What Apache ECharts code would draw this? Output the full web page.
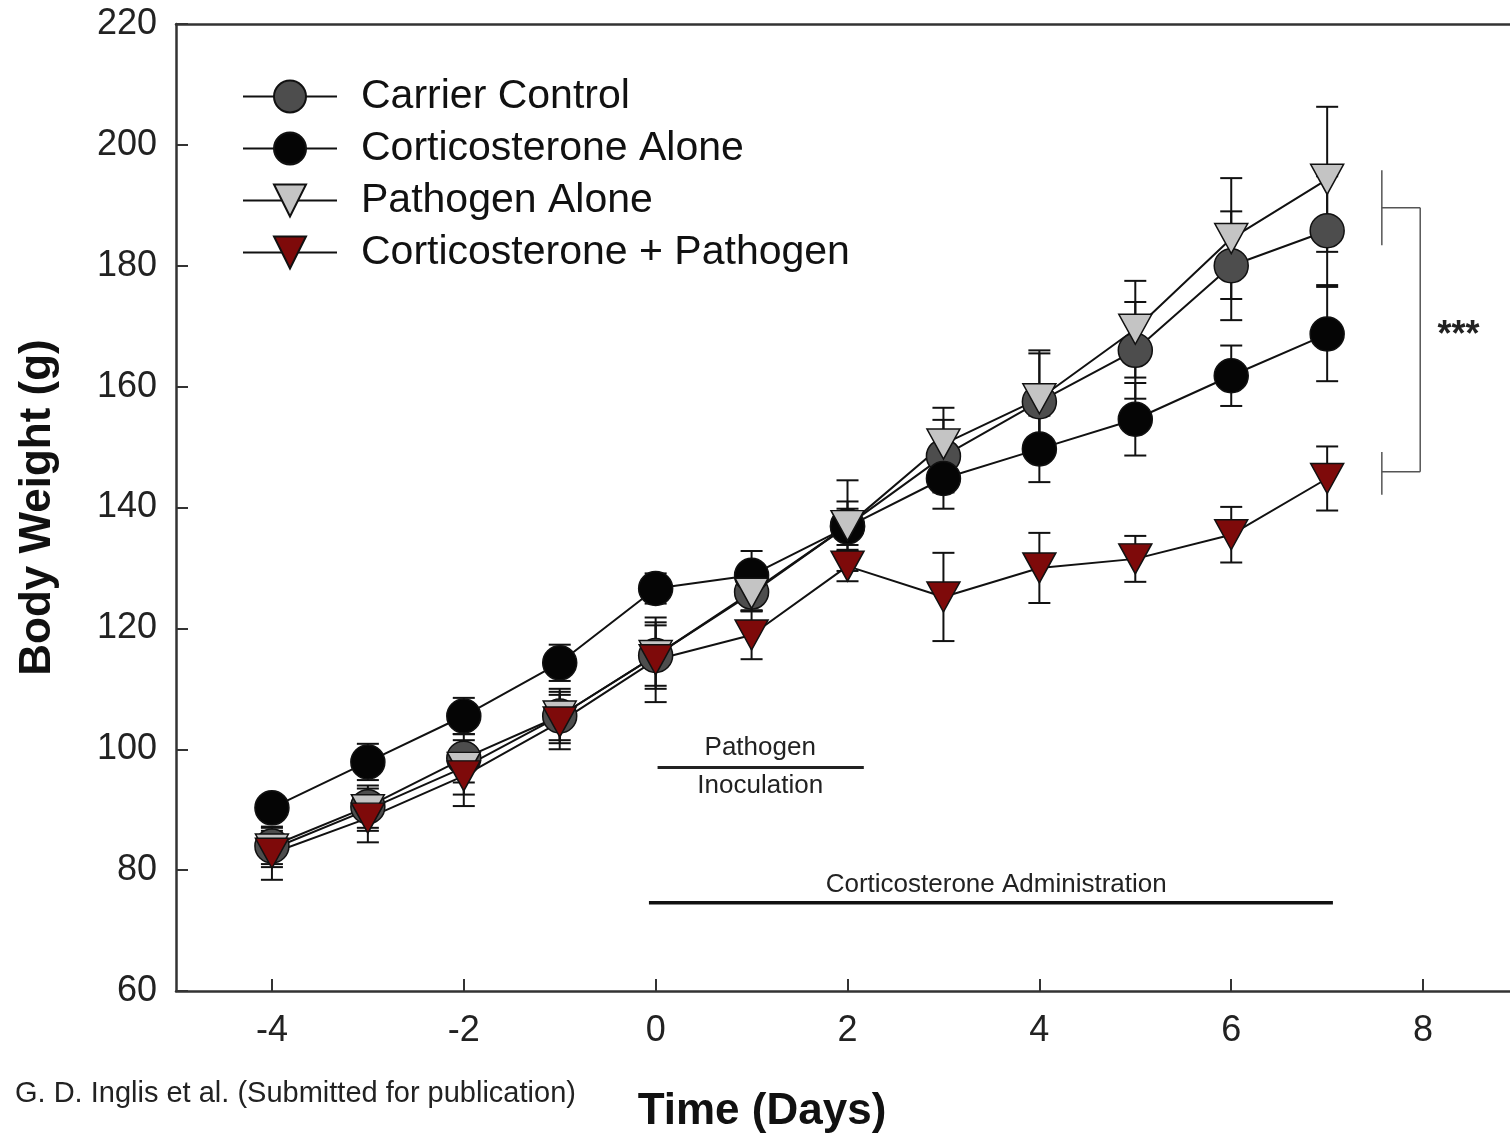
<!DOCTYPE html>
<html>
<head>
<meta charset="utf-8">
<title>Body Weight</title>
<script src="https://cdn.jsdelivr.net/npm/echarts@6/dist/echarts.min.js"></script>
<style>
    html, body {
        margin: 0;
        padding: 0;
        background: #fff;
    }
    #main {
        width: 1510px;
        height: 1135px;
    }
</style>
</head>
<body>
<div id="main"></div>
<script>
const days = [-4, -3, -2, -1, 0, 1, 2, 3, 4, 5, 6, 7]
const xTicks = [-4, -2, 0, 2, 4, 6, 8]

const carrierControl = [84, 90.5, 98.5, 105.5, 115.5, 126, 137, 148.5, 157.5, 166, 180, 185.8]
const carrierControlErr = [3, 3.5, 4, 4, 5, 3, 7.5, 6, 8, 8, 9, 9]
const corticosteroneAlone = [90.3, 97.9, 105.5, 114.3, 126.6, 128.8, 136.8, 144.8, 149.7, 154.6, 161.8, 168.7]
const corticosteroneAloneErr = [2, 3, 3, 3, 2.5, 4, 3, 5, 5.5, 6, 5, 7.8]
const pathogenAlone = [83.5, 90, 97, 105.5, 115.5, 125.8, 137, 150.5, 158, 169.5, 184.5, 194.3]
const pathogenAloneErr = [3, 3.5, 4.5, 4.5, 5.5, 3, 4, 6, 8, 8, 10, 12]
const corticoPathogen = [82.8, 88.6, 95.6, 104.5, 114.8, 118.9, 130.3, 125.2, 130, 131.5, 135.5, 144.8]
const corticoPathogenErr = [4.4, 4, 5, 4.5, 7, 4, 2.5, 7.3, 5.8, 3.8, 4.6, 5.3]

const FONT = 'Liberation Sans, Arial, Helvetica, sans-serif'

const chart = echarts.init(document.getElementById('main'))

function points(vals) {
    return days.map((d, i) => [d, vals[i]])
}

function errRows(vals, errs) {
    return days.map((d, i) => [d, vals[i] - errs[i], vals[i] + errs[i]])
}

// vertical error bar with caps, drawn through the axes
function errorSeries(vals, errs) {
    return {
        type: 'custom',
        z: 1,
        silent: true,
        data: errRows(vals, errs),
        renderItem: function (params, api) {
            const lo = api.coord([api.value(0), api.value(1)])
            const hi = api.coord([api.value(0), api.value(2)])
            const w = 11
            const style = { stroke: '#111', lineWidth: 2 }
            return {
                type: 'group',
                children: [
                    { type: 'line', shape: { x1: lo[0], y1: lo[1], x2: hi[0], y2: hi[1] }, style: style },
                    { type: 'line', shape: { x1: lo[0] - w, y1: lo[1], x2: lo[0] + w, y2: lo[1] }, style: style },
                    { type: 'line', shape: { x1: hi[0] - w, y1: hi[1], x2: hi[0] + w, y2: hi[1] }, style: style }
                ]
            }
        }
    }
}

function lineSeries(name, vals, symbol, color, size, rotate) {
    return {
        name: name,
        type: 'line',
        z: 3,
        data: points(vals),
        symbol: symbol,
        symbolSize: size,
        symbolRotate: rotate,
        showAllSymbol: true,
        lineStyle: { color: '#111', width: 2 },
        itemStyle: { color: color, borderColor: '#111', borderWidth: 1.5 },
        emphasis: { disabled: true }
    }
}

const option = {
    animation: false,
    backgroundColor: '#fff',
    grid: {
        left: 176,
        top: 24,
        right: 0,
        bottom: 144
    },
    legend: {
        orient: 'vertical',
        left: 242,
        top: 76,
        padding: 0,
        itemWidth: 94,
        itemHeight: 40,
        itemGap: 11,
        textStyle: {
            fontFamily: FONT,
            fontSize: 41,
            color: '#111',
            padding: [0, 0, 0, 19]
        },
        data: ['Carrier Control', 'Corticosterone Alone', 'Pathogen Alone', 'Corticosterone + Pathogen']
    },
    xAxis: [
        {
            type: 'value',
            min: -5,
            max: 8.906,
            axisLine: { onZero: false, lineStyle: { color: '#333', width: 2.5 } },
            axisTick: { inside: true, length: 12, customValues: xTicks, lineStyle: { color: '#333', width: 2 } },
            axisLabel: {
                customValues: xTicks,
                margin: 22,
                fontFamily: FONT,
                fontSize: 36,
                color: '#222'
            },
            splitLine: { show: false }
        },
        {
            type: 'value',
            position: 'top',
            min: -5,
            max: 8.906,
            axisLine: { show: true, onZero: false, lineStyle: { color: '#333', width: 2.5 } },
            axisTick: { show: false },
            axisLabel: { show: false },
            splitLine: { show: false }
        }
    ],
    yAxis: {
        type: 'value',
        min: 60,
        max: 220,
        interval: 20,
        name: 'Body Weight (g)',
        nameLocation: 'middle',
        nameGap: 116,
        nameTextStyle: {
            fontFamily: FONT,
            fontSize: 44,
            fontWeight: 'bold',
            color: '#111'
        },
        axisLine: { show: true, onZero: false, lineStyle: { color: '#333', width: 2.5 } },
        axisTick: { show: true, inside: true, length: 12, lineStyle: { color: '#333', width: 2 } },
        axisLabel: {
            margin: 19,
            fontFamily: FONT,
            fontSize: 36,
            color: '#222'
        },
        splitLine: { show: false }
    },
    series: [
        errorSeries(carrierControl, carrierControlErr),
        errorSeries(corticosteroneAlone, corticosteroneAloneErr),
        errorSeries(pathogenAlone, pathogenAloneErr),
        errorSeries(corticoPathogen, corticoPathogenErr),
        lineSeries('Carrier Control', carrierControl, 'circle', '#4d4d4d', 34, 0),
        lineSeries('Corticosterone Alone', corticosteroneAlone, 'circle', '#050505', 34, 0),
        lineSeries('Pathogen Alone', pathogenAlone, 'triangle', '#c4c4c4', [33, 30], 180),
        lineSeries('Corticosterone + Pathogen', corticoPathogen, 'triangle', '#7e0a0a', [33, 30], 180)
    ]
}

chart.setOption(option)

// annotations placed in data coordinates
const px = (x, y) => chart.convertToPixel({ xAxisIndex: 0, yAxisIndex: 0 }, [x, y])

function seg(a, b, color, width) {
    const p1 = px(a[0], a[1])
    const p2 = px(b[0], b[1])
    return {
        type: 'line',
        shape: { x1: p1[0], y1: p1[1], x2: p2[0], y2: p2[1] },
        style: { stroke: color, lineWidth: width }
    }
}

function label(x, y, text, size, weight) {
    const p = px(x, y)
    return {
        type: 'text',
        x: p[0],
        y: p[1],
        style: {
            text: text,
            font: (weight || 'normal') + ' ' + size + 'px ' + FONT,
            fill: '#222',
            align: 'center',
            verticalAlign: 'middle'
        }
    }
}

chart.setOption({
    graphic: [
        seg([0.02, 97], [2.17, 97], '#222', 3),
        label(1.09, 100.2, 'Pathogen', 26),
        label(1.09, 94, 'Inoculation', 26),
        seg([-0.07, 74.6], [7.06, 74.6], '#111', 3.5),
        label(3.55, 77.5, 'Corticosterone Administration', 26),
        seg([7.57, 195.8], [7.57, 183.4], '#555', 1.5),
        seg([7.57, 149.2], [7.57, 142.1], '#555', 1.5),
        seg([7.57, 189.6], [7.97, 189.6], '#555', 1.5),
        seg([7.57, 145.9], [7.97, 145.9], '#555', 1.5),
        seg([7.97, 189.6], [7.97, 145.9], '#555', 1.5),
        label(8.37, 168.3, '***', 36, 'bold'),
        {
            type: 'text',
            x: 762,
            y: 1112,
            style: {
                text: 'Time (Days)',
                font: 'bold 44px ' + FONT,
                fill: '#111',
                align: 'center',
                verticalAlign: 'middle'
            }
        },
        {
            type: 'text',
            x: 15,
            y: 1094,
            style: {
                text: 'G. D. Inglis et al. (Submitted for publication)',
                font: '29px ' + FONT,
                fill: '#222',
                align: 'left',
                verticalAlign: 'middle'
            }
        }
    ]
})
</script>
</body>
</html>
